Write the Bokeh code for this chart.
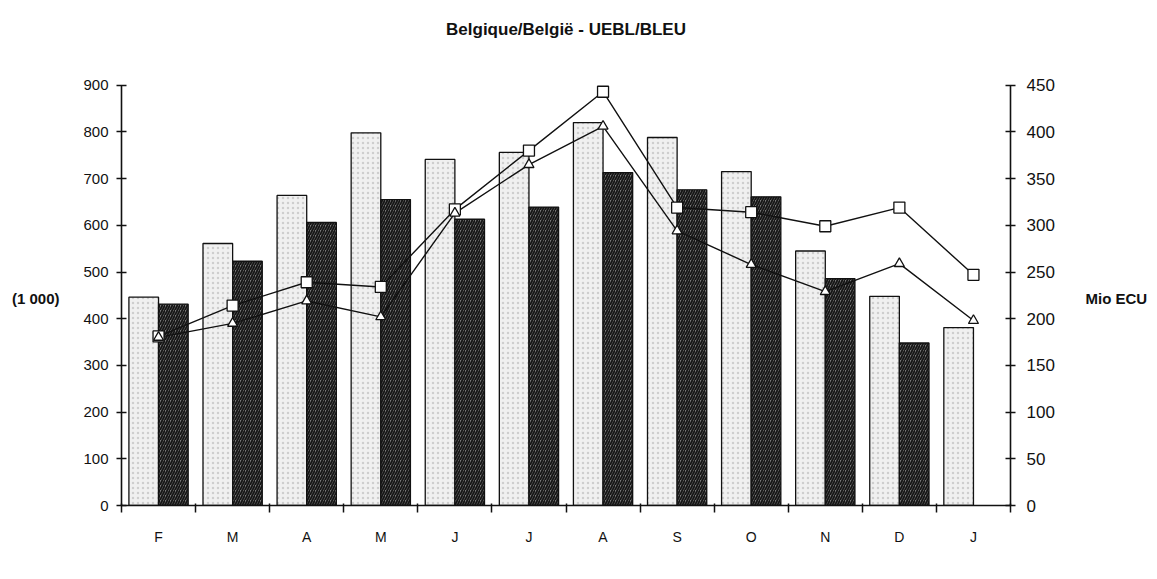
from bokeh.plotting import figure
from bokeh.models import Range1d, LinearAxis, FixedTicker, ColumnDataSource
from bokeh.embed import file_html
from bokeh.resources import INLINE

# ---- data ----
months = ["F", "M", "A", "M", "J", "J", "A", "S", "O", "N", "D", "J"]
bars_light = [446, 561, 664, 798, 741, 756, 820, 788, 715, 545, 448, 381]   # left axis (1 000)
bars_dark = [431, 523, 606, 655, 613, 639, 713, 676, 661, 486, 348]          # left axis (1 000), no value for last J
line_squares = [181, 214, 239, 234, 317, 380, 443, 319, 314, 299, 319, 247]   # right axis Mio ECU
line_triangles = [180, 195, 219, 202, 313, 365, 406, 294, 258, 229, 259, 198] # right axis Mio ECU
left_ticks = list(range(0, 901, 100))
right_ticks = list(range(0, 451, 50))
title_text = "Belgique/België - UEBL/BLEU"
left_unit = "(1 000)"
right_unit = "Mio ECU"

FONT = "Liberation Sans"

centers = [i + 0.5 for i in range(len(months))]
boundaries = list(range(len(months) + 1))

# the frame reaches above the 900 / 450 ends of the axes (axes are bounded), leaving room for the title
p = figure(width=1150, height=562, x_range=Range1d(0, len(months)), y_range=Range1d(0, 1000),
           output_backend="svg", toolbar_location=None, x_axis_type=None, y_axis_type=None,
           min_border_left=121, min_border_right=138, min_border_top=38, min_border_bottom=57,
           background_fill_color="white", border_fill_color="white", outline_line_color=None,
           title=title_text)
p.extra_y_ranges = {"right": Range1d(0, 500)}
p.grid.visible = False

p.title.align = "center"
p.title.text_font = FONT
p.title.text_font_size = "17px"
p.title.text_font_style = "bold"
p.title.text_color = "#111111"
p.title.standoff = 0

# bars
src_light = ColumnDataSource(dict(x=[c - 0.2 for c in centers], top=bars_light))
src_dark = ColumnDataSource(dict(x=[c + 0.2 for c in centers[:len(bars_dark)]], top=bars_dark))
p.vbar(x="x", top="top", width=0.4, source=src_light, fill_color="#f0f0f0",
       line_color="#111111", line_width=1.3, hatch_pattern="dot", hatch_color="#b5b5b5",
       hatch_scale=5, hatch_alpha=0.6)
p.vbar(x="x", top="top", width=0.4, source=src_dark, fill_color="#7a7a7a",
       line_color="#111111", line_width=1.3, hatch_pattern="right_diagonal_line",
       hatch_color="#151515", hatch_scale=5, hatch_weight=1.8)

# lines on right axis
p.line(centers, line_squares, y_range_name="right", line_color="#111111", line_width=1.4)
p.line(centers, line_triangles, y_range_name="right", line_color="#111111", line_width=1.4)
p.scatter(centers, line_squares, y_range_name="right", marker="square", size=11,
          fill_color="white", line_color="#111111", line_width=1.3)
p.scatter(centers, line_triangles, y_range_name="right", marker="triangle", size=10,
          fill_color="white", line_color="#111111", line_width=1.3)

def style_axis(ax, size="15px"):
    ax.axis_line_color = "#111111"
    ax.axis_line_width = 1.6
    ax.major_tick_line_color = "#111111"
    ax.major_tick_line_width = 1.5
    ax.minor_tick_line_color = None
    ax.major_label_text_font = FONT
    ax.major_label_text_font_size = size
    ax.major_label_text_color = "#111111"

left = LinearAxis(ticker=FixedTicker(ticks=left_ticks), bounds=(0, 900))
style_axis(left, "15px")
left.major_tick_in = 5
left.major_tick_out = 5
left.major_label_standoff = 8
p.add_layout(left, "left")

right = LinearAxis(y_range_name="right", ticker=FixedTicker(ticks=right_ticks), bounds=(0, 450))
style_axis(right, "17px")
right.major_tick_in = 5
right.major_tick_out = 5
right.major_label_standoff = 11
p.add_layout(right, "right")

# unit titles of the two value axes, level with the middle of the value scale
def unit_axis(text, mid, range_name, standoff):
    ax = LinearAxis(ticker=FixedTicker(ticks=[mid]), major_label_overrides={mid: text},
                    y_range_name=range_name)
    style_axis(ax, "15px")
    ax.axis_line_color = None
    ax.major_tick_line_color = None
    ax.major_tick_in = 0
    ax.major_tick_out = 0
    ax.major_label_text_font_style = "bold"
    ax.major_label_standoff = standoff
    return ax

p.add_layout(unit_axis(left_unit, 444, "default", 21), "left")
p.add_layout(unit_axis(right_unit, 222, "right", 28), "right")

bottom = LinearAxis(ticker=FixedTicker(ticks=centers, minor_ticks=boundaries),
                    major_label_overrides={c: m for c, m in zip(centers, months)})
style_axis(bottom, "14px")
bottom.major_tick_line_color = None
bottom.major_tick_out = 7
bottom.major_tick_in = 0
bottom.minor_tick_line_color = "#111111"
bottom.minor_tick_line_width = 1.5
bottom.minor_tick_out = 7
bottom.minor_tick_in = 2
bottom.major_label_standoff = 16
p.add_layout(bottom, "below")

open("out.html", "w").write(file_html(p, INLINE))
